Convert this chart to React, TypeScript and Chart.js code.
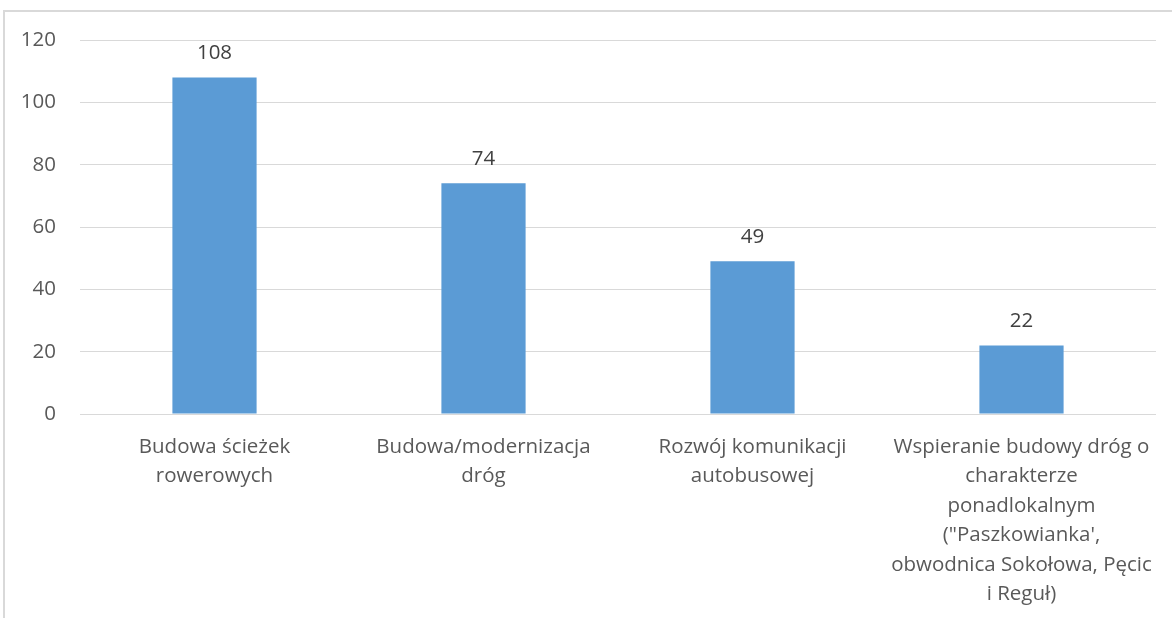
import React, { useEffect, useRef } from "react";
import { Chart, registerables } from "chart.js";

Chart.register(...registerables);

const categories: string[][] = [
  ["Budowa ścieżek", "rowerowych"],
  ["Budowa/modernizacja", "dróg"],
  ["Rozwój komunikacji", "autobusowej"],
  ["Wspieranie budowy dróg o", "charakterze", "ponadlokalnym", "(\"Paszkowianka',", "obwodnica Sokołowa, Pęcic", "i Reguł)"],
];
const values: number[] = [108, 74, 49, 22];
const yMin = 0;
const yMax = 120;
const yStep = 20;

const FONT = "'Open Sans', 'Noto Sans', sans-serif";
const FSIZE = 20.5;

const dataLabelPlugin = {
  id: "dataLabels",
  afterDatasetsDraw(chart: any) {
    const ctx = chart.ctx;
    const meta = chart.getDatasetMeta(0);
    ctx.save();
    ctx.font = `${FSIZE}px ${FONT}`;
    ctx.fillStyle = "#404040";
    ctx.textAlign = "center";
    ctx.textBaseline = "middle";
    meta.data.forEach((bar: any, i: number) => {
      ctx.fillText(String(values[i]), bar.x, bar.y - 24);
    });
    ctx.restore();
  },
};

export default function App() {
  const canvasRef = useRef<HTMLCanvasElement | null>(null);

  useEffect(() => {
    if (!canvasRef.current) return;
    const chart = new Chart(canvasRef.current, {
      type: "bar",
      data: {
        labels: categories,
        datasets: [
          {
            data: values,
            backgroundColor: "#5b9bd5",
            borderWidth: 0,
            categoryPercentage: 1,
            barPercentage: 0.313,
          },
        ],
      },
      options: {
        animation: false,
        responsive: false,
        maintainAspectRatio: false,
        layout: { padding: { top: 40, right: 16, left: 0, bottom: 0 } },
        plugins: {
          legend: { display: false },
          tooltip: { enabled: false },
          title: { display: false },
        },
        scales: {
          x: {
            grid: { display: false, drawTicks: false },
            border: { display: false },
            ticks: {
              color: "#595959",
              font: { family: FONT, size: FSIZE, lineHeight: 1.44 },
              padding: 18,
              maxRotation: 0,
              autoSkip: false,
            },
            afterFit(scale: any) {
              scale.height = 618 - 414;
            },
          },
          y: {
            min: yMin,
            max: yMax,
            grid: { color: "#d9d9d9", lineWidth: 1, drawTicks: false },
            border: { display: false },
            ticks: {
              stepSize: yStep,
              color: "#595959",
              font: { family: FONT, size: FSIZE },
              padding: 24,
            },
            afterFit(scale: any) {
              scale.width = 80;
            },
          },
        },
      },
      plugins: [dataLabelPlugin],
    });
    return () => chart.destroy();
  }, []);

  return (
    <div
      style={{
        position: "fixed",
        left: 0,
        top: 0,
        width: 1172,
        height: 618,
        overflow: "hidden",
        background: "#ffffff",
      }}
    >
      <div
        style={{
          position: "absolute",
          left: 3,
          top: 10,
          width: 1300,
          height: 800,
          border: "2px solid #d9d9d9",
          boxSizing: "border-box",
        }}
      />
      <canvas
        ref={canvasRef}
        width={1172}
        height={618}
        style={{ position: "absolute", left: 0, top: 0, width: 1172, height: 618 }}
      />
    </div>
  );
}
